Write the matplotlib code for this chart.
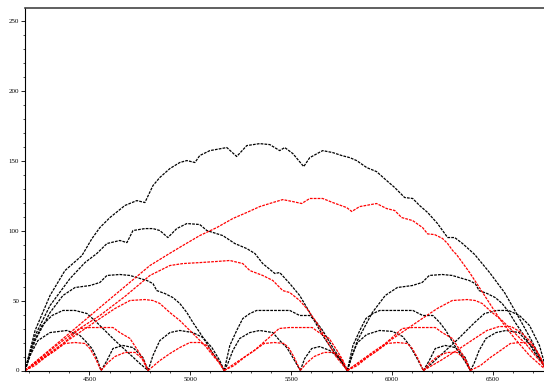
import matplotlib
matplotlib.use("Agg")
import matplotlib.pyplot as plt
from matplotlib.ticker import MultipleLocator

# --- black arches (x, y) ---
blk_a_x = [4181, 4231, 4305, 4379, 4463, 4513, 4552, 4602, 4676, 4735, 4775, 4815, 4849, 4899, 4948, 4983,
           5023, 5047, 5097, 5181, 5230, 5280, 5344, 5394, 5443, 5468, 5508, 5562, 5592, 5656, 5706, 5750,
           5790, 5824, 5874, 5923, 5973, 6013, 6062, 6102, 6136, 6176, 6225, 6275, 6310, 6349, 6409, 6483,
           6557, 6631, 6691, 6730, 6765]
blk_a_y = [0, 28.6, 53.6, 71.4, 82.1, 94.3, 102.1, 109.3, 117.9, 121.4, 120.0, 132.1, 137.9, 144.3, 148.6, 150.0,
           148.6, 153.6, 157.1, 159.3, 152.9, 160.7, 162.1, 161.4, 157.1, 159.3, 155.0, 145.7, 152.1, 157.1, 155.7, 153.6,
           152.1, 150.0, 145.0, 142.1, 135.7, 130.7, 123.6, 122.9, 117.9, 112.9, 105.0, 95.0, 95.0, 90.7, 82.9, 70.0,
           55.7, 37.1, 21.4, 10.0, 0]

blk_b_x = [4181, 4231, 4305, 4404, 4478, 4537, 4587, 4651, 4686, 4716, 4775, 4815, 4849, 4889, 4933, 4983,
           5047, 5082, 5161, 5221, 5280, 5320, 5359, 5419, 5443, 5493, 5542, 5592, 5656, 5706, 5755, 5778]
blk_b_y = [0, 25.0, 46.4, 65.7, 77.1, 83.6, 90.7, 92.9, 91.4, 100.0, 101.4, 101.4, 100.0, 95.0, 101.4, 105.0,
           104.3, 100.0, 96.4, 90.7, 87.1, 83.6, 76.4, 69.3, 70.0, 62.1, 53.6, 41.4, 25.0, 14.3, 5.0, 0]

blk_c_x = [4181, 4231, 4305, 4369, 4429, 4503, 4552, 4587, 4651, 4701, 4785, 4815, 4834, 4874, 4914, 4948,
           4983, 5013, 5047, 5082, 5112, 5146, 5168]
blk_c_y = [0, 21.4, 41.4, 53.6, 59.3, 60.7, 62.9, 67.9, 68.6, 67.9, 64.3, 62.1, 57.1, 55.0, 52.1, 47.9,
           41.4, 34.3, 27.1, 19.3, 12.1, 5.7, 0]

blk_d_x = [4181, 4216, 4265, 4315, 4369, 4429, 4488, 4537, 4567, 4627, 4691, 4750, 4791]
blk_d_y = [0, 17.9, 32.1, 39.3, 42.9, 42.9, 40.7, 34.3, 30.0, 21.4, 12.9, 5.0, 0]

blk_e_x = [4181, 4206, 4245, 4305, 4389, 4453, 4483, 4513, 4537, 4558]
blk_e_y = [0, 10.7, 21.4, 27.1, 28.6, 25.0, 20.7, 15.7, 8.6, 0]

blk_f_x = [4558, 4587, 4617, 4666, 4716, 4765, 4791]
blk_f_y = [0, 7.1, 15.7, 17.9, 16.4, 9.3, 0]

blk_g_x = [4791, 4815, 4849, 4899, 4948, 5013, 5062, 5107, 5146, 5168]
blk_g_y = [0, 10.7, 21.4, 27.1, 28.6, 27.1, 23.6, 16.4, 7.1, 0]

blk_h_x = [5168, 5186, 5211, 5245, 5295, 5344, 5409, 5443, 5478, 5508, 5545]
blk_h_y = [0, 5.0, 14.3, 22.9, 27.1, 28.6, 27.1, 21.4, 16.4, 9.3, 0]

blk_i_x = [5168, 5196, 5230, 5260, 5295, 5329, 5394, 5493, 5542, 5592, 5626, 5656, 5706, 5755, 5778]
blk_i_y = [0, 17.9, 28.6, 37.1, 40.7, 42.9, 42.9, 42.9, 39.3, 39.3, 34.3, 28.6, 16.4, 5.7, 0]

blk_j_x = [5545, 5567, 5602, 5641, 5691, 5740, 5778]
blk_j_y = [0, 8.6, 15.7, 17.1, 14.3, 8.6, 0]

blk_k_x = [5778, 5800, 5829, 5874, 5938, 6003, 6052, 6087, 6121, 6155]
blk_k_y = [0, 10.7, 20.0, 25.7, 28.6, 27.9, 24.3, 17.9, 9.3, 0]

blk_l_x = [5778, 5806, 5840, 5870, 5905, 5939, 6004, 6103, 6152, 6202, 6236, 6266, 6316, 6365, 6388]
blk_l_y = [0, 17.9, 28.6, 37.1, 40.7, 42.9, 42.9, 42.9, 39.3, 39.3, 34.3, 28.6, 16.4, 5.7, 0]

blk_m_x = [5778, 5828, 5902, 5966, 6026, 6100, 6149, 6184, 6248, 6298, 6382, 6412, 6431, 6471, 6511, 6545,
           6580, 6610, 6644, 6679, 6709, 6743, 6765]
blk_m_y = [0, 21.4, 41.4, 53.6, 59.3, 60.7, 62.9, 67.9, 68.6, 67.9, 64.3, 62.1, 57.1, 55.0, 52.1, 47.9,
           41.4, 34.3, 27.1, 19.3, 12.1, 5.7, 0]

blk_n_x = [6155, 6184, 6214, 6263, 6313, 6362, 6388]
blk_n_y = [0, 7.1, 15.7, 17.9, 16.4, 9.3, 0]

blk_o_x = [6155, 6196, 6255, 6319, 6379, 6409, 6458, 6517, 6577, 6631, 6681, 6730, 6765]
blk_o_y = [0, 5.0, 12.9, 21.4, 30.0, 34.3, 40.7, 42.9, 42.9, 39.3, 32.1, 17.9, 0]

blk_p_x = [6388, 6406, 6431, 6465, 6515, 6564, 6629, 6663, 6698, 6728, 6765]
blk_p_y = [0, 5.0, 14.3, 22.9, 27.1, 28.6, 27.1, 21.4, 16.4, 9.3, 0]

# --- red arches (x, y) ---
red_a_x = [4181, 4305, 4429, 4552, 4676, 4800, 4889, 4963, 5047, 5131, 5211, 5280, 5344, 5409, 5458, 5508,
           5552, 5592, 5656, 5706, 5775, 5800, 5839, 5923, 5973, 6013, 6047, 6102, 6151, 6176, 6211, 6250,
           6275, 6300, 6319, 6384, 6458, 6532, 6607, 6681, 6765]
red_a_y = [0, 15.0, 30.0, 45.0, 60.0, 75.0, 82.9, 89.3, 96.4, 102.1, 108.6, 112.9, 117.1, 120.0, 122.1, 120.7,
           119.3, 122.9, 122.9, 120.0, 116.4, 113.6, 117.1, 119.3, 115.7, 114.3, 109.3, 107.1, 102.1, 97.6, 97.1, 94.3,
           90.7, 85.7, 82.9, 70.0, 53.6, 37.1, 22.9, 10.7, 0]

red_b_x = [4181, 4305, 4429, 4552, 4676, 4800, 4899, 4963, 5047, 5131, 5196, 5260, 5295, 5359, 5409, 5458,
           5493, 5542, 5577, 5626, 5676, 5725, 5778]
red_b_y = [0, 14.3, 27.9, 39.3, 52.9, 67.9, 75.0, 76.4, 77.1, 77.9, 78.6, 76.4, 71.4, 67.9, 64.3, 57.1,
           55.7, 50.0, 44.3, 34.3, 21.4, 9.3, 0]

red_c_x = [4181, 4305, 4429, 4552, 4627, 4701, 4775, 4815, 4849, 4899, 4948, 4983, 5023, 5072, 5112, 5146, 5168]
red_c_y = [0, 12.9, 25.0, 37.1, 44.3, 50.0, 50.7, 50.0, 47.9, 41.4, 35.7, 30.7, 25.0, 17.9, 10.7, 5.0, 0]

red_d_x = [4181, 4255, 4330, 4404, 4453, 4503, 4552, 4617, 4651, 4701, 4740, 4770, 4791]
red_d_y = [0, 7.1, 14.3, 23.6, 30.0, 30.7, 30.7, 30.7, 27.1, 22.9, 14.3, 7.1, 0]

red_e_x = [4181, 4231, 4280, 4330, 4379, 4429, 4478, 4503, 4528, 4558]
red_e_y = [0, 3.6, 9.3, 14.3, 19.3, 20.0, 19.3, 15.7, 9.3, 0]

red_f_x = [4558, 4592, 4627, 4676, 4726, 4760, 4791]
red_f_y = [0, 5.7, 10.0, 12.9, 12.9, 8.6, 0]

red_g_x = [4791, 4849, 4899, 4948, 4998, 5047, 5082, 5112, 5146, 5168]
red_g_y = [0, 7.1, 12.1, 16.4, 20.0, 20.0, 17.9, 12.1, 5.0, 0]

red_h_x = [5168, 5218, 5267, 5317, 5366, 5416, 5465, 5490, 5515, 5545]
red_h_y = [0, 3.6, 9.3, 14.3, 19.3, 20.0, 19.3, 15.7, 9.3, 0]

red_i_x = [5168, 5242, 5317, 5391, 5440, 5490, 5539, 5604, 5638, 5688, 5727, 5757, 5778]
red_i_y = [0, 7.1, 14.3, 23.6, 30.0, 30.7, 30.7, 30.7, 27.1, 22.9, 14.3, 7.1, 0]

red_j_x = [5545, 5579, 5614, 5663, 5713, 5747, 5778]
red_j_y = [0, 5.7, 10.0, 12.9, 12.9, 8.6, 0]

red_k_x = [5778, 5828, 5877, 5927, 5976, 6026, 6075, 6100, 6125, 6155]
red_k_y = [0, 3.6, 9.3, 14.3, 19.3, 20.0, 19.3, 15.7, 9.3, 0]

red_l_x = [5778, 5852, 5927, 6001, 6050, 6100, 6149, 6214, 6248, 6298, 6337, 6367, 6388]
red_l_y = [0, 7.1, 14.3, 23.6, 30.0, 30.7, 30.7, 30.7, 27.1, 22.9, 14.3, 7.1, 0]

red_m_x = [5778, 5902, 6026, 6149, 6224, 6298, 6372, 6412, 6446, 6496, 6545, 6580, 6620, 6669, 6709, 6743, 6765]
red_m_y = [0, 12.9, 25.0, 37.1, 44.3, 50.0, 50.7, 50.0, 47.9, 41.4, 35.7, 30.7, 25.0, 17.9, 10.7, 5.0, 0]

red_n_x = [6155, 6189, 6224, 6273, 6323, 6357, 6388]
red_n_y = [0, 5.7, 10.0, 12.9, 12.9, 8.6, 0]

red_o_x = [6155, 6240, 6320, 6400, 6470, 6530, 6590, 6640, 6690, 6730, 6765]
red_o_y = [0, 7.1, 14.3, 22.0, 28.6, 31.4, 31.4, 27.1, 20.0, 10.7, 0]

red_p_x = [6388, 6438, 6487, 6537, 6586, 6636, 6685, 6710, 6735, 6765]
red_p_y = [0, 3.6, 9.3, 14.3, 19.3, 20.0, 19.3, 15.7, 9.3, 0]

black_arches = [(blk_a_x, blk_a_y), (blk_b_x, blk_b_y), (blk_c_x, blk_c_y), (blk_d_x, blk_d_y),
                (blk_e_x, blk_e_y), (blk_f_x, blk_f_y), (blk_g_x, blk_g_y), (blk_h_x, blk_h_y),
                (blk_i_x, blk_i_y), (blk_j_x, blk_j_y), (blk_k_x, blk_k_y), (blk_l_x, blk_l_y),
                (blk_m_x, blk_m_y), (blk_n_x, blk_n_y), (blk_o_x, blk_o_y), (blk_p_x, blk_p_y)]
red_arches = [(red_a_x, red_a_y), (red_b_x, red_b_y), (red_c_x, red_c_y), (red_d_x, red_d_y),
              (red_e_x, red_e_y), (red_f_x, red_f_y), (red_g_x, red_g_y), (red_h_x, red_h_y),
              (red_i_x, red_i_y), (red_j_x, red_j_y), (red_k_x, red_k_y), (red_l_x, red_l_y),
              (red_m_x, red_m_y), (red_n_x, red_n_y), (red_o_x, red_o_y), (red_p_x, red_p_y)]

fig = plt.figure(figsize=(5.44, 3.82), dpi=100, facecolor='white')
# axes box: left edge at ~25px, y=0 at ~370px, top at ~8px, right edge just past the image
ax = fig.add_axes([25 / 544, 1 - 370.5 / 382, 521.5 / 544, 362.5 / 382])

for xs, ys in black_arches:
    ax.plot(xs, ys, color='black', lw=0.9, ls=(0, (2.2, 0.9)), solid_capstyle='butt')
for xs, ys in red_arches:
    ax.plot(xs, ys, color='red', lw=0.9, ls=(0, (2.2, 0.9)), solid_capstyle='butt')

ax.set_xlim(4181, 6765)
ax.set_ylim(0, 259)
ax.xaxis.set_major_locator(MultipleLocator(500))
ax.xaxis.set_minor_locator(MultipleLocator(100))
ax.yaxis.set_major_locator(MultipleLocator(50))
ax.yaxis.set_minor_locator(MultipleLocator(10))
ax.tick_params(which='major', direction='out', length=2.6, width=0.6, labelsize=5, pad=1.5)
ax.tick_params(axis='x', which='major', pad=2.0)
ax.tick_params(which='minor', direction='out', length=1.5, width=0.5)
for lab in ax.get_xticklabels() + ax.get_yticklabels():
    lab.set_family('Liberation Serif')
for side in ['left', 'bottom']:
    ax.spines[side].set_linewidth(0.8)
ax.spines['top'].set_linewidth(1.2)
ax.spines['top'].set_color('#444444')

fig.savefig('out.png', dpi=100)
